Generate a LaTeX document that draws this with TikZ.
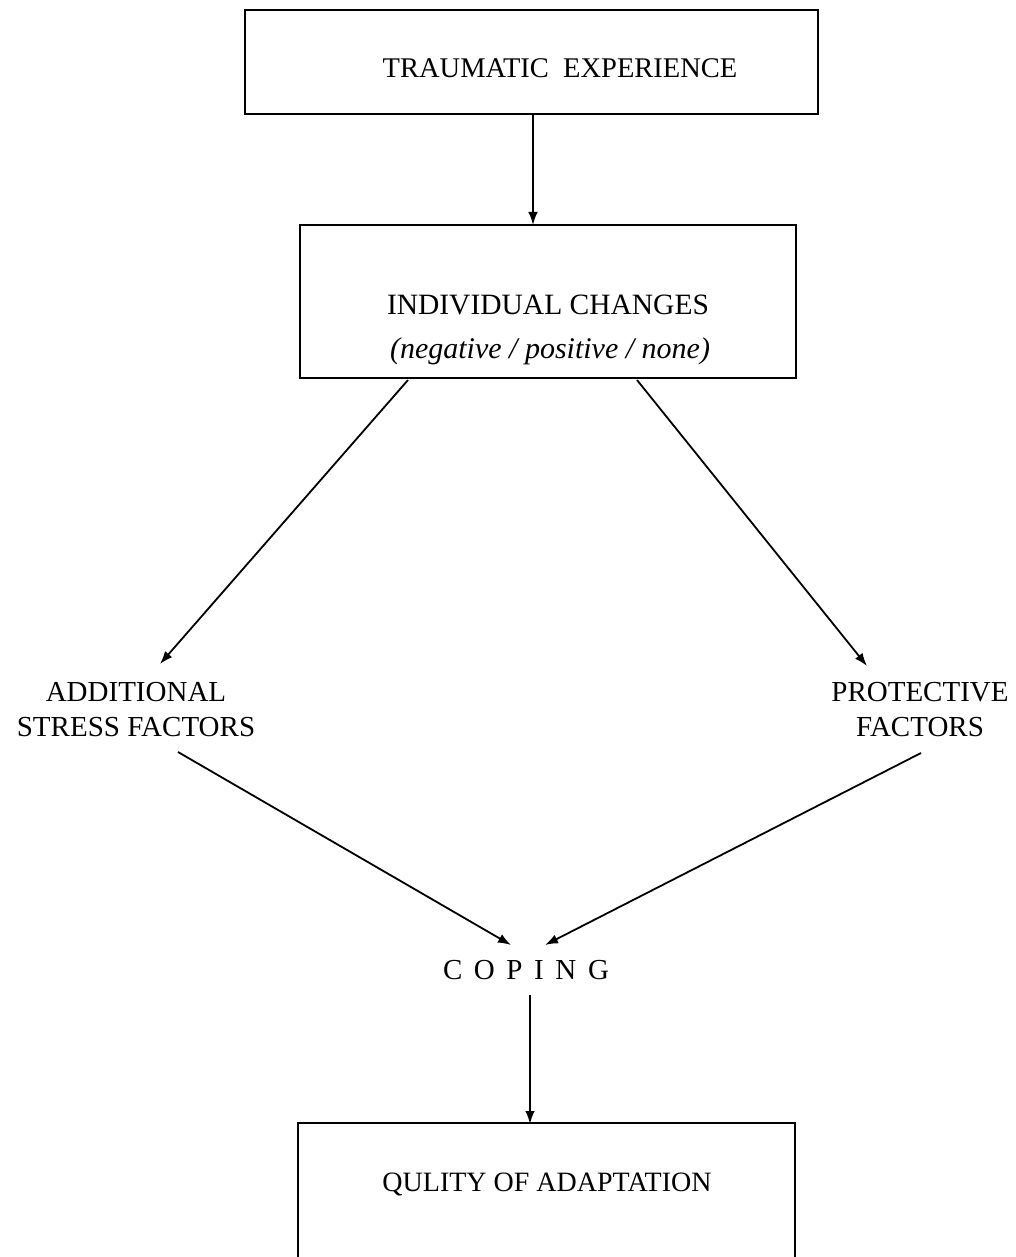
\documentclass[tikz,border=0pt]{standalone}
\usepackage{fontspec}
\setmainfont{Liberation Serif}
\usetikzlibrary{arrows.meta}
\newcommand{\fsz}[1]{\fontsize{#1}{35}\selectfont}
\begin{document}
\begin{tikzpicture}[x=1pt,y=-1pt,
  box/.style={draw,line width=2pt,inner sep=0pt},
  lbl/.style={font=\fsz{29},align=center,inner sep=0pt},
  arr/.style={line width=1.8pt,-{Latex[length=13pt,width=9.5pt]}}]
\useasboundingbox (0,0) rectangle (1016,1257);
\clip (0,0) rectangle (1016,1257);
% boxes
\node[box,minimum width=573pt,minimum height=104pt] (b1) at (531.5,62) {};
\node[lbl,font=\fsz{28.5}] (t1) at (560,68) {TRAUMATIC\ \ EXPERIENCE};
\node[box,minimum width=496pt,minimum height=153pt] (b2) at (548,301.5) {};
\node[lbl,font=\fsz{29.5}] (t2a) at (548,305) {INDIVIDUAL CHANGES};
\node[lbl,font=\fsz{30}] (t2b) at (550,351) {\itshape (negative / positive / none)};
\node[inner sep=0pt,minimum width=497pt,minimum height=150pt] (b3) at (546.5,1198) {};
\draw[line width=2pt] (b3.south west) -- (b3.north west) -- (b3.north east) -- (b3.south east);
\node[lbl,font=\fsz{28}] (t3) at (547,1184) {QULITY OF ADAPTATION};
% labels
\node[lbl] (add) at (136,710) {ADDITIONAL\\STRESS FACTORS};
\node[lbl] (prot) at (920,710) {PROTECTIVE\\FACTORS};
\node[lbl] (cop) at (526,970) {C\hspace{0.4em}O\hspace{0.4em}P\hspace{0.4em}I\hspace{0.4em}N\hspace{0.4em}G};
% connector end points
\coordinate (a1s) at (533,115);
\coordinate (a1e) at (533,225);
\coordinate (l1s) at (408,380);
\coordinate (l1e) at (160,664);
\coordinate (r1s) at (637,380);
\coordinate (r1e) at (867,666);
\coordinate (l2s) at (178,752);
\coordinate (l2e) at (511,945);
\coordinate (r2s) at (921,753);
\coordinate (r2e) at (545,945);
\coordinate (c1s) at (530,995);
\coordinate (c1e) at (530,1124);
\draw[arr] (a1s) -- (a1e);
\draw[arr] (l1s) -- (l1e);
\draw[arr] (r1s) -- (r1e);
\draw[arr] (l2s) -- (l2e);
\draw[arr] (r2s) -- (r2e);
\draw[arr] (c1s) -- (c1e);
\end{tikzpicture}
\end{document}
